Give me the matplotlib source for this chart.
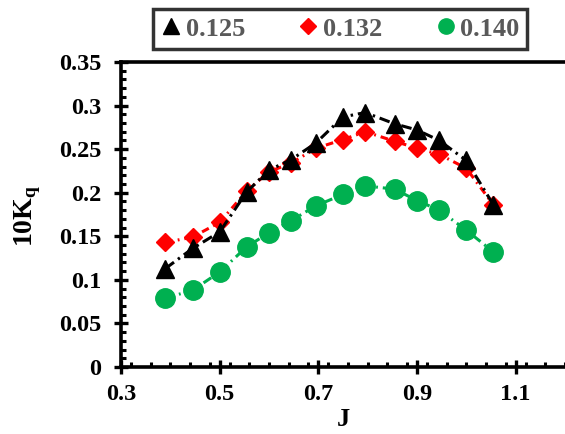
import matplotlib
matplotlib.use("Agg")
import matplotlib.pyplot as plt
from matplotlib.ticker import MultipleLocator
from matplotlib.lines import Line2D

J = [0.39, 0.445, 0.50, 0.555, 0.60, 0.645, 0.695, 0.75, 0.795, 0.855, 0.90, 0.945, 1.00, 1.055]
kq_0125 = [0.113, 0.136, 0.155, 0.201, 0.226, 0.238, 0.257, 0.287, 0.292, 0.279, 0.272, 0.260, 0.237, 0.186]
kq_0132 = [0.143, 0.149, 0.166, 0.202, 0.224, 0.234, 0.251, 0.261, 0.270, 0.259, 0.251, 0.244, 0.228, 0.186]
kq_0140 = [0.079, 0.088, 0.109, 0.138, 0.154, 0.168, 0.185, 0.198, 0.208, 0.204, 0.191, 0.180, 0.157, 0.132]
labels = ["0.125", "0.132", "0.140"]
xticks = [0.3, 0.5, 0.7, 0.9, 1.1]
xtick_labels = ["0.3", "0.5", "0.7", "0.9", "1.1"]
yticks = [0, 0.05, 0.1, 0.15, 0.2, 0.25, 0.3, 0.35]
ytick_labels = ["0", "0.05", "0.1", "0.15", "0.2", "0.25", "0.3", "0.35"]

plt.rcParams['font.family'] = ['Liberation Serif', 'DejaVu Serif']
plt.rcParams['font.weight'] = 'bold'
plt.rcParams['mathtext.fontset'] = 'custom'
plt.rcParams['mathtext.rm'] = 'Liberation Serif'
plt.rcParams['mathtext.bf'] = 'Liberation Serif:bold'

fig = plt.figure(figsize=(5.65, 4.34), dpi=100)
ax = fig.add_axes([121/565, 1 - 367/434, (565 - 121)/565, (367 - 62)/434])

green = '#00B050'
ax.plot(J, kq_0140, color=green, lw=2.2, ls=(0, (3, 1.6, 0.6, 1.6)), marker='o', ms=14, mec=green, mfc=green, zorder=3)
ax.plot(J, kq_0132, color='red', lw=2.2, ls=(0, (2.5, 1.6, 0.6, 1.6)), marker='D', ms=9.5, mec='red', mfc='red', zorder=4)
ax.plot(J, kq_0125, color='black', lw=2.2, ls=(0, (3.5, 1.6, 0.8, 1.6)), marker='^', ms=13, mec='black', mfc='black', zorder=5)

ax.set_xlim(0.3, 1.2)
ax.set_ylim(0, 0.35)
ax.xaxis.set_minor_locator(MultipleLocator(0.04))
ax.yaxis.set_minor_locator(MultipleLocator(0.01))

ax.set_xticks(xticks)
ax.set_xticklabels(xtick_labels)
ax.set_yticks(yticks)
ax.set_yticklabels(ytick_labels)

ax.tick_params(which='major', direction='inout', length=10, width=2.4, labelsize=17.5)
ax.tick_params(axis='x', which='major', pad=7)
ax.tick_params(axis='y', which='major', pad=9)
ax.tick_params(which='minor', direction='in', length=3.6, width=2.2)
ax.tick_params(axis='both', which='both', top=False, right=False)
for lab in ax.get_xticklabels() + ax.get_yticklabels():
    lab.set_fontweight('bold')

for s in ['left', 'bottom', 'top']:
    ax.spines[s].set_linewidth(2.6)
ax.spines['right'].set_visible(False)

fig.text(343/565, 1 - 420/434, 'J', fontsize=19, fontweight='bold', ha='center', va='center')
fig.text(28/565, 1 - 216/434, r'10K$_{\mathrm{q}}$', fontsize=20, fontweight='bold',
         rotation=90, ha='center', va='center')

handles = [
    Line2D([], [], color='black', marker='^', ms=11, ls='none'),
    Line2D([], [], color='red', marker='D', ms=8, ls='none'),
    Line2D([], [], color=green, marker='o', ms=11, ls='none'),
]
leg = fig.legend(handles, labels, loc='center', ncol=3,
                 bbox_to_anchor=(340/565, 1 - 29/434), frameon=True, fancybox=False,
                 handlelength=0.8, handletextpad=0.15, columnspacing=2.0,
                 borderpad=0.3, prop={'family': 'Liberation Serif', 'weight': 'bold', 'size': 19})
leg.get_frame().set_edgecolor('black')
leg.get_frame().set_linewidth(2.5)
for t in leg.get_texts():
    t.set_color('#595959')

fig.savefig('out.png', dpi=100)
